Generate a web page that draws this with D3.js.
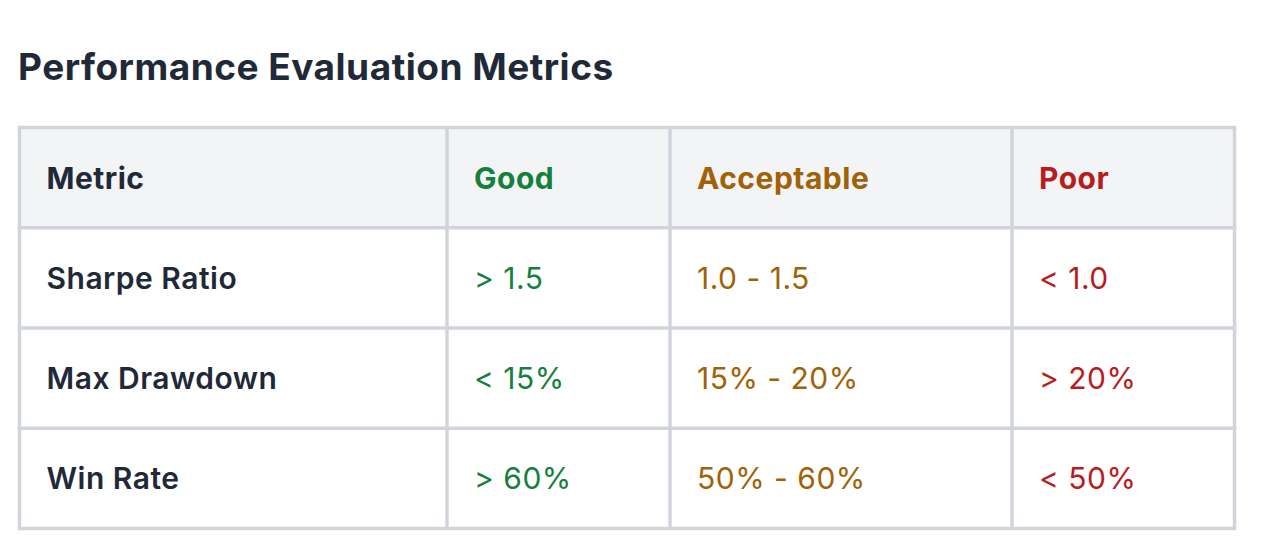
<!DOCTYPE html>
<html lang="en">
<head>
    <meta charset="UTF-8">
    <title>Performance Evaluation Metrics</title>
    <script src="https://d3js.org/d3.v7.min.js"></script>
    <style>
        body { margin: 0; background: #fff; font-family: Inter, "Noto Sans", sans-serif; }
    </style>
</head>
<body>
    <div id="table"></div>
    <script>
        // table content
        const columns = ["Metric", "Good", "Acceptable", "Poor"];
        const metrics = ["Sharpe Ratio", "Max Drawdown", "Win Rate"];
        const goodValues = ["> 1.5", "< 15%", "> 60%"];
        const acceptableValues = ["1.0 - 1.5", "15% - 20%", "50% - 60%"];
        const poorValues = ["< 1.0", "> 20%", "< 50%"];

        const W = 1264, H = 546;
        const colWidths = [427.5, 223, 342, 222.5];
        const colColors = ["#1f2937", "#15803d", "#a16207", "#b91c1c"];
        const tLeft = 19.5, tTop = 127.5, tBottom = 528.5;
        const pad = 27;

        const svg = d3.select("#table").append("svg")
            .attr("width", W)
            .attr("height", H);

        svg.append("text")
            .attr("x", 18)
            .attr("y", 80)
            .attr("fill", "#1f2937")
            .style("font-size", "37px")
            .style("letter-spacing", "0.5px")
            .style("font-weight", 700)
            .text("Performance Evaluation Metrics");

        const rowKeys = ["header"].concat(metrics);
        const y = d3.scaleBand().domain(rowKeys).range([tTop, tBottom]);

        // column edges from widths
        const edges = [tLeft];
        colWidths.forEach(w => edges.push(edges[edges.length - 1] + w));
        const x = d3.scaleOrdinal().domain(columns).range(edges.slice(0, -1));
        const tRight = edges[edges.length - 1];

        // header background
        svg.append("rect")
            .attr("x", tLeft).attr("y", y("header"))
            .attr("width", tRight - tLeft).attr("height", y.bandwidth())
            .attr("fill", "#f3f4f6");

        // grid lines
        const grid = svg.append("g").attr("stroke", "#d1d5db").attr("stroke-width", 3.5);
        rowKeys.concat(["end"]).forEach((k, i) => {
            const yy = tTop + i * y.bandwidth();
            grid.append("line").attr("x1", tLeft - 1.75).attr("x2", tRight + 1.75).attr("y1", yy).attr("y2", yy);
        });
        edges.forEach(xx => {
            grid.append("line").attr("x1", xx).attr("x2", xx).attr("y1", tTop).attr("y2", tBottom);
        });

        const textY = k => y(k) + y.bandwidth() / 2 + 11;

        // header
        svg.append("g").selectAll("text")
            .data(columns)
            .join("text")
            .attr("x", d => x(d) + pad)
            .attr("y", textY("header"))
            .attr("fill", (d, i) => colColors[i])
            .style("font-size", "30px")
            .style("letter-spacing", "0.5px")
            .style("font-weight", 700)
            .text(d => d);

        // body rows
        const rows = metrics.map((m, i) => [m, goodValues[i], acceptableValues[i], poorValues[i]]);
        const rowG = svg.append("g").selectAll("g")
            .data(rows)
            .join("g");

        rowG.selectAll("text")
            .data((r, i) => r.map((v, j) => ({ v, j, key: metrics[i] })))
            .join("text")
            .attr("x", d => x(columns[d.j]) + pad)
            .attr("y", d => textY(d.key))
            .attr("fill", d => colColors[d.j])
            .style("font-size", "30px")
            .style("letter-spacing", "0.5px")
            .style("font-weight", d => d.j === 0 ? 600 : 400)
            .text(d => d.v);
    </script>
</body>
</html>
